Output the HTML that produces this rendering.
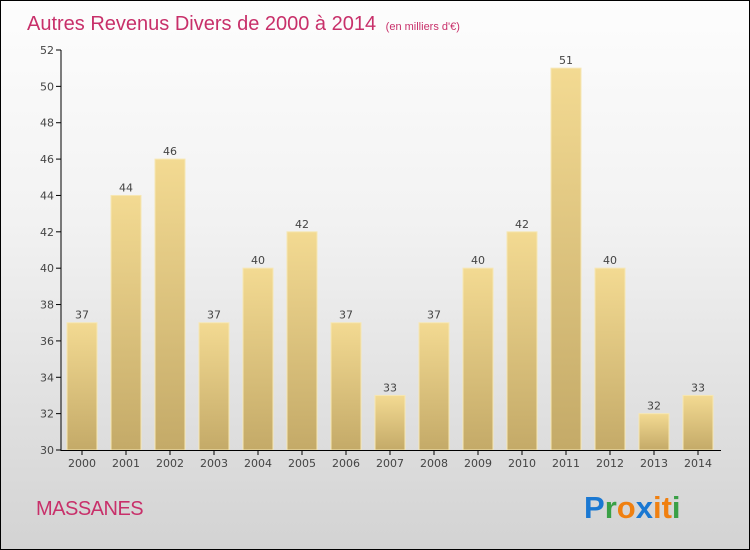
<!DOCTYPE html>
<html><head><meta charset="utf-8"><style>
body{margin:0}
#c{position:relative;width:748px;height:548px;border:1px solid #000;background:linear-gradient(#fdfdfd,#f2f2f2 40%,#d3d3d3);font-family:"DejaVu Sans","Liberation Sans",sans-serif;overflow:hidden}
</style></head><body>
<div id="c">
<svg id="s" width="748" height="548">
<defs><linearGradient id="g" x1="0" y1="0" x2="0" y2="1"><stop offset="0" stop-color="#f3da92"/><stop offset="1" stop-color="#c4aa68"/></linearGradient></defs>
<text x="26" y="29" font-size="20" fill="#c8306a" font-family="Liberation Sans,sans-serif">Autres Revenus Divers de 2000 à 2014 <tspan font-size="11" dx="4">(en milliers d'€)</tspan></text>
<text x="35" y="514" font-size="20" fill="#c8306a" font-family="Liberation Sans,sans-serif" letter-spacing="-0.5">MASSANES</text>
<g font-size="31" font-family="Liberation Sans,sans-serif" font-weight="bold"><text x="583" y="517" fill="#1a78d2">P<tspan fill="#3aa046">r</tspan><tspan fill="#f08010">o</tspan><tspan fill="#1a78d2">x</tspan><tspan fill="#f08010">i</tspan><tspan fill="#f08010">t</tspan><tspan fill="#3aa046">i</tspan></text></g>
<g id="plot"></g>
</svg></div>
<script>
const categories=["2000","2001","2002","2003","2004","2005","2006","2007","2008","2009","2010","2011","2012","2013","2014"];
const values=[37,44,46,37,40,42,37,33,37,40,42,51,40,32,33];
const yTicks=[30,32,34,36,38,40,42,44,46,48,50,52];
const NS="http://www.w3.org/2000/svg";
const g=document.getElementById('plot');
const y=v=>449-(v-30)*400/22;
const x=i=>81+i*44;
function mk(t,a){const e=document.createElementNS(NS,t);for(const k in a)e.setAttribute(k,a[k]);g.appendChild(e);return e;}
yTicks.forEach(v=>{
 const l=mk('line',{x1:55,x2:60,y1:y(v),y2:y(v),stroke:'#000'});
 
 
 const t=mk('text',{x:53,y:y(v)+4,'text-anchor':'end','font-size':11,fill:'#444'});t.textContent=v;
 
 
});
values.forEach((v,i)=>{
 const r=mk('rect',{x:x(i)-15,y:y(v),width:30,height:y(30)-y(v),fill:'url(#g)',stroke:'#f6e7b4','stroke-width':1});
 
 
 const t=mk('text',{x:x(i),y:y(v)-4,'text-anchor':'middle','font-size':11,fill:'#444'});t.textContent=v;
 
 
 const tk=mk('line',{x1:x(i),x2:x(i),y1:449,y2:454,stroke:'#000'});
 
 
 const c=mk('text',{x:x(i),y:466,'text-anchor':'middle','font-size':11,fill:'#444'});c.textContent=categories[i];
 
 
});
const ya=mk('line',{x1:60,x2:60,y1:y(52),y2:450,stroke:'#000'});


const xa=mk('line',{x1:60,x2:720,y1:449.5,y2:449.5,stroke:'#000'});


</script>
</body></html>
